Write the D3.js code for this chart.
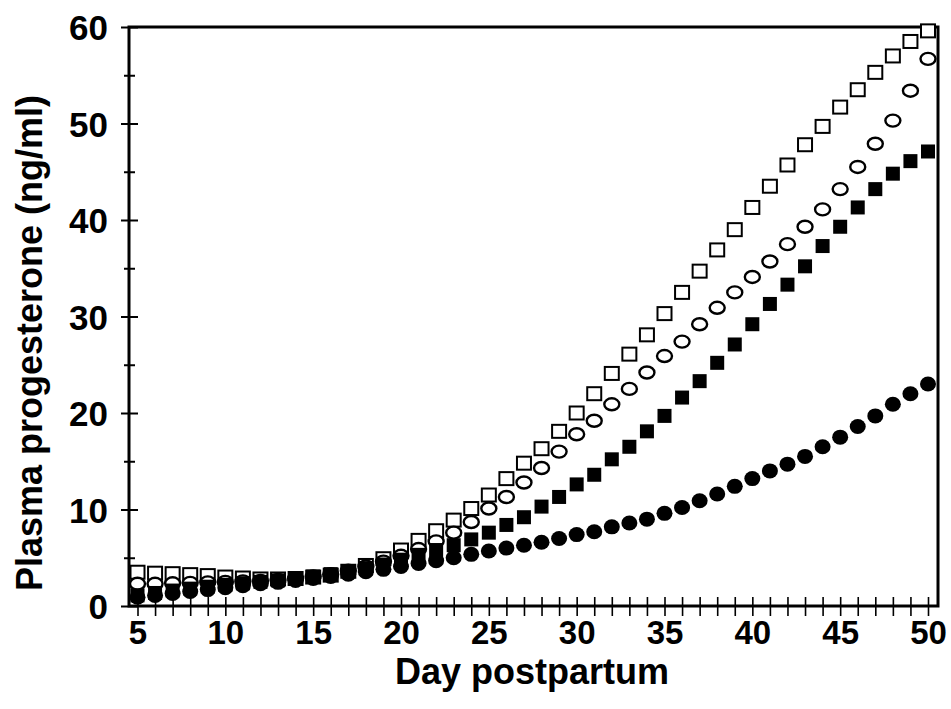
<!DOCTYPE html>
<html>
<head>
<meta charset="utf-8">
<script src="https://cdn.jsdelivr.net/npm/d3@7"></script>
<style>
  body { margin: 0; background: #fff; }
  text { font-family: "Liberation Sans", Arial, sans-serif; font-weight: bold; fill: #000; }
</style>
</head>
<body>
<svg id="chart" width="951" height="709"></svg>
<script>
// days postpartum
var days = [5, 6, 7, 8, 9, 10, 11, 12, 13, 14, 15, 16, 17, 18, 19, 20, 21, 22, 23, 24, 25, 26, 27,
	28, 29, 30, 31, 32, 33, 34, 35, 36, 37, 38, 39, 40, 41, 42, 43, 44, 45, 46, 47, 48, 49, 50];

var openSquare = [3.5, 3.4, 3.35, 3.25, 3.15, 3.0, 2.9, 2.8, 2.8, 2.85, 3.0, 3.2, 3.6, 4.2, 4.9,
	5.8, 6.8, 7.8, 8.9, 10.1, 11.5, 13.2, 14.8, 16.3, 18.1, 20.0, 22.0, 24.1, 26.1, 28.1, 30.3,
	32.5, 34.7, 36.9, 39.0, 41.3, 43.5, 45.7, 47.8, 49.7, 51.7, 53.5, 55.3, 57.0, 58.5, 59.6];

var openCircle = [2.3, 2.3, 2.35, 2.4, 2.45, 2.5, 2.55, 2.6, 2.7, 2.85, 3.05, 3.3, 3.65, 4.1, 4.6,
	5.2, 5.9, 6.7, 7.6, 8.7, 10.1, 11.3, 12.8, 14.3, 16.0, 17.8, 19.2, 20.9, 22.5, 24.2, 25.9,
	27.4, 29.2, 30.9, 32.5, 34.1, 35.7, 37.5, 39.3, 41.1, 43.2, 45.5, 47.9, 50.3, 53.4, 56.7];

var filledSquare = [1.1, 1.35, 1.6, 1.8, 2.0, 2.2, 2.35, 2.5, 2.65, 2.85, 3.05, 3.3, 3.6, 3.9, 4.3,
	4.8, 5.3, 5.8, 6.3, 6.9, 7.6, 8.4, 9.2, 10.3, 11.3, 12.6, 13.6, 15.2, 16.5, 18.1, 19.7,
	21.6, 23.3, 25.2, 27.1, 29.2, 31.3, 33.3, 35.2, 37.3, 39.3, 41.3, 43.2, 44.8, 46.1, 47.1];

var filledCircle = [0.9, 1.1, 1.3, 1.5, 1.7, 1.9, 2.1, 2.3, 2.45, 2.65, 2.85, 3.05, 3.3, 3.55, 3.8,
	4.1, 4.4, 4.7, 5.0, 5.35, 5.7, 6.0, 6.3, 6.6, 7.0, 7.4, 7.7, 8.2, 8.6, 9.0, 9.6,
	10.2, 10.9, 11.6, 12.4, 13.2, 14.0, 14.7, 15.5, 16.5, 17.5, 18.6, 19.7, 20.9, 22.0, 23.0];

var yTicks = [0, 5, 10, 15, 20, 25, 30, 35, 40, 45, 50, 55, 60];

var frame = { left: 129, right: 938, top: 27, bottom: 606 };

var svg = d3.select("#chart");

var x = d3.scaleLinear().domain([5, 50]).range([137.5, 928]);
var y = d3.scaleLinear().domain([0, 60]).range([frame.bottom, frame.top]);

// x axis: a tick every day, labels every 5
var xAxis = d3.axisBottom(x)
	.tickValues(days)
	.tickSizeOuter(0)
	.tickPadding(0)
	.tickFormat(function(d) { return d % 5 === 0 ? d : ""; });

var xg = svg.append("g").attr("transform", "translate(0," + frame.bottom + ")").call(xAxis);
xg.select(".domain").remove();
xg.selectAll(".tick line").attr("y1", -9).attr("y2", 10).attr("stroke", "#000").attr("stroke-width", 1.6);
xg.selectAll(".tick text")
	.attr("y", 38).attr("dy", null)
	.style("font-size", "33px");

// y axis
var yAxis = d3.axisLeft(y)
	.tickValues(yTicks)
	.tickSizeOuter(0)
	.tickFormat(function(d) { return d % 10 === 0 ? d : ""; });

var yg = svg.append("g").attr("transform", "translate(" + frame.left + ",0)").call(yAxis);
yg.select(".domain").remove();
yg.selectAll(".tick line")
	.attr("x1", function(d) { return d % 10 === 0 ? -8 : -5; })
	.attr("x2", function(d) { return d % 10 === 0 ? 9 : 6; })
	.attr("stroke", "#000").attr("stroke-width", 2);
yg.selectAll(".tick text")
	.attr("x", -21).attr("dy", "0.36em")
	.style("font-size", "35px");

// frame
svg.append("rect")
	.attr("x", frame.left).attr("y", frame.top)
	.attr("width", frame.right - frame.left)
	.attr("height", frame.bottom - frame.top)
	.attr("fill", "none").attr("stroke", "#000").attr("stroke-width", 3);

// markers
var plot = svg.append("g");

plot.selectAll(".osq").data(days).enter().append("rect")
	.attr("x", function(d, i) { return x(d) - 7; })
	.attr("y", function(d, i) { return y(openSquare[i]) - 6.5; })
	.attr("width", 14).attr("height", 13)
	.attr("fill", "#fff").attr("stroke", "#000").attr("stroke-width", 2);

plot.selectAll(".oci").data(days).enter().append("ellipse")
	.attr("cx", function(d) { return x(d); })
	.attr("cy", function(d, i) { return y(openCircle[i]); })
	.attr("rx", 7.5).attr("ry", 6)
	.attr("fill", "#fff").attr("stroke", "#000").attr("stroke-width", 2.4);

plot.selectAll(".fsq").data(days).enter().append("rect")
	.attr("x", function(d) { return x(d) - 7; })
	.attr("y", function(d, i) { return y(filledSquare[i]) - 7; })
	.attr("width", 14).attr("height", 14)
	.attr("fill", "#000");

plot.selectAll(".fci").data(days).enter().append("ellipse")
	.attr("cx", function(d) { return x(d); })
	.attr("cy", function(d, i) { return y(filledCircle[i]); })
	.attr("rx", 8).attr("ry", 7.5)
	.attr("fill", "#000");

// axis titles
svg.append("text")
	.attr("x", 532).attr("y", 684)
	.attr("text-anchor", "middle")
	.style("font-size", "36px")
	.text("Day postpartum");

svg.append("text")
	.attr("transform", "translate(42,343) rotate(-90)")
	.attr("text-anchor", "middle")
	.style("font-size", "36px")
	.text("Plasma progesterone (ng/ml)");
</script>
</body>
</html>
